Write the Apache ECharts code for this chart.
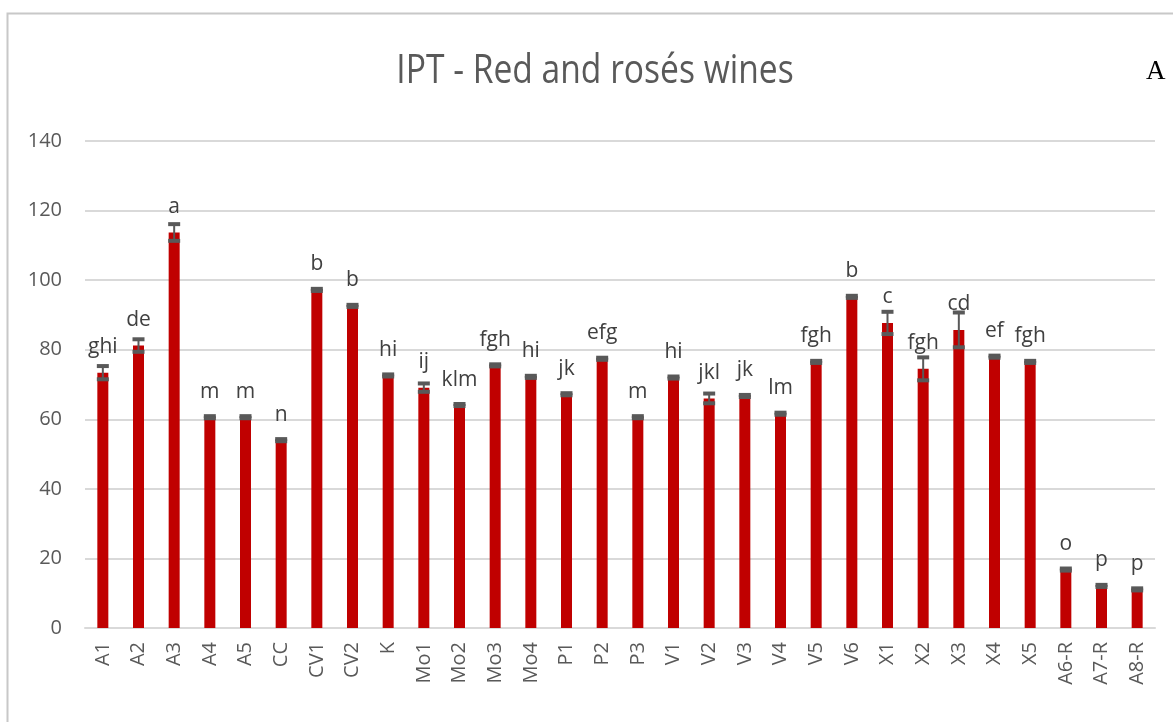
<!DOCTYPE html>
<html>
<head>
<meta charset="utf-8">
<script src="https://cdn.jsdelivr.net/npm/echarts@6/dist/echarts.min.js"></script>
<style>
html,body{margin:0;padding:0;background:#fff;}
#chart{width:1173px;height:722px;}
</style>
</head>
<body>
<div id="chart"></div>
<script>
const categories = ['A1','A2','A3','A4','A5','CC','CV1','CV2','K','Mo1','Mo2','Mo3','Mo4','P1','P2','P3','V1','V2','V3','V4','V5','V6','X1','X2','X3','X4','X5','A6-R','A7-R','A8-R'];
const values = [73.4,81.2,113.7,60.6,60.6,54.0,97.2,92.6,72.6,69.1,64.1,75.5,72.2,67.2,77.4,60.6,72.0,66.0,66.7,61.6,76.5,95.2,87.7,74.5,85.7,78.0,76.5,16.8,12.1,11.1];
const errors = [1.9,1.8,2.4,0.3,0.3,0.3,0.3,0.3,0.3,1.2,0.3,0.3,0.3,0.3,0.3,0.3,0.3,1.4,0.3,0.3,0.3,0.3,3.2,3.3,5.0,0.3,0.3,0.3,0.3,0.3];
const letters = ['ghi','de','a','m','m','n','b','b','hi','ij','klm','fgh','hi','jk','efg','m','hi','jkl','jk','lm','fgh','b','c','fgh','cd','ef','fgh','o','p','p'];
const yTicks = [0,20,40,60,80,100,120,140];
const titleText = 'IPT - Red and rosés wines';

const chart = echarts.init(document.getElementById('chart'), null, {renderer:'canvas'});
const font = '"Open Sans", "Noto Sans", sans-serif';
const errData = values.map((v,i)=>[i, v - errors[i], v + errors[i]]);

chart.setOption({
  backgroundColor:'#fff',
  animation:false,
  graphic:[
    {type:'rect', shape:{x:7.5,y:13.5,width:1180,height:720}, style:{fill:'none', stroke:'#c8c8c8', lineWidth:2}, z:-1},
    {type:'text', x:595, y:72, scaleX:0.84, originX:0, style:{text:titleText, font:'40px "Open Sans", sans-serif', fill:'#595959', textAlign:'center', textVerticalAlign:'middle'}},
    {type:'text', left:1146, top:58, style:{text:'A', font:'27px "Liberation Serif", serif', fill:'#000'}}
  ],
  grid:{left:85, right:18, top:141, bottom:94},
  xAxis:{
    type:'category', data:categories,
    axisLine:{lineStyle:{color:'#d9d9d9', width:2}},
    axisTick:{show:false},
    axisLabel:{rotate:90, fontSize:20, color:'#595959', fontFamily:font, margin:14, interval:0}
  },
  yAxis:{
    type:'value', min:yTicks[0], max:yTicks[yTicks.length-1], interval:20,
    axisLine:{show:false}, axisTick:{show:false},
    axisLabel:{fontSize:20, color:'#595959', fontFamily:font, margin:23},
    splitLine:{lineStyle:{color:'#d9d9d9', width:2}}
  },
  series:[
    {
      type:'bar', data:values, barWidth:11,
      itemStyle:{color:'#C00000'},
      label:{show:true, position:'top', distance:15, formatter:p=>letters[p.dataIndex], fontSize:21, color:'#404040', fontFamily:font}
    },
    {
      type:'custom', data:errData, z:5,
      renderItem:function(params, api){
        const x = api.value(0);
        const lo = api.coord([x, api.value(1)]);
        const hi = api.coord([x, api.value(2)]);
        const hw = 6;
        const st = {stroke:'#595959', lineWidth:2};
        const cap = {stroke:'#595959', lineWidth:4};
        return {type:'group', children:[
          {type:'line', shape:{x1:lo[0],y1:lo[1],x2:hi[0],y2:hi[1]}, style:st},
          {type:'line', shape:{x1:hi[0]-hw,y1:hi[1],x2:hi[0]+hw,y2:hi[1]}, style:cap},
          {type:'line', shape:{x1:lo[0]-hw,y1:lo[1],x2:lo[0]+hw,y2:lo[1]}, style:cap}
        ]};
      }
    }
  ]
});
</script>
</body>
</html>
